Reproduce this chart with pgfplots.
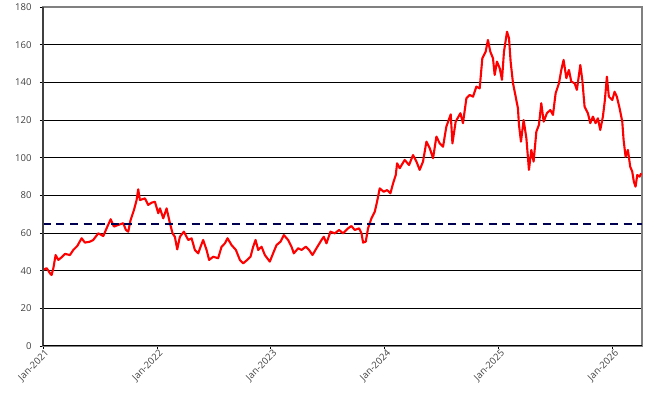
\documentclass[border=0pt]{standalone}
\usepackage{pgfplots}
\pgfplotsset{compat=1.18}
\usepackage{fontspec}
\setmainfont{Open Sans}
\definecolor{lblgray}{HTML}{404040}
\definecolor{frgray}{HTML}{808080}
\definecolor{dashnavy}{HTML}{000050}
\begin{document}
\begin{tikzpicture}[x=1pt,y=1pt]
\path[use as bounding box] (-43,-63) rectangle (618,346);
\begin{axis}[
  at={(0,0)}, anchor=south west,
  scale only axis, width=599pt, height=339pt,
  xmin=0, xmax=63.1, ymin=0, ymax=180,
  xtick={0,12,24,36,48,60},
  xticklabels={Jan-2021,Jan-2022,Jan-2023,Jan-2024,Jan-2025,Jan-2026},
  ytick={0,20,...,180},
  ymajorgrids, grid style={black, line width=0.8pt},
  axis line style={frgray, line width=1.2pt},
  tick style={black, line width=0.8pt},
  tick align=outside, major tick length=3pt,
  xtick pos=bottom, ytick pos=left,
  tick label style={font=\fontsize{9.5}{11}\selectfont, text=lblgray},
  xticklabel style={rotate=45, anchor=north east, inner sep=1pt, xshift=2pt},
  yticklabel style={xshift=-5pt},
  /pgf/number format/assume math mode=true,
  clip=false,
]
\addplot[red, line width=2.1pt, line join=round] coordinates {
(0,40.4)(0.39,41.3)(0.74,38.6)(0.91,37.7)(1.09,41.3)(1.33,48.3)(1.61,45.7)(1.96,47.1)(2.32,48.9)(2.84,48.3)(3.19,51)(3.61,53.1)(4.07,57.2)(4.42,54.9)(4.95,55.4)(5.29,56.3)(5.82,59.8)(6.35,58.4)(6.7,62.5)(7.13,67.3)(7.47,63.4)(7.93,64.3)(8.45,65.2)(8.74,61.6)(8.98,60.7)(9.23,66.9)(9.58,72.2)(9.86,77.5)(10.03,83.2)(10.21,77.5)(10.74,78.4)(11.08,74.9)(11.44,76.1)(11.79,76.6)(12.14,70.5)(12.32,73.1)(12.67,67.8)(13.02,73.1)(13.37,65.2)(13.65,59.8)(13.89,58)(14.14,51.3)(14.42,58)(14.84,60.7)(15.3,56.3)(15.65,57.2)(16,51)(16.35,49.2)(16.6,52.7)(16.87,56.3)(17.23,51)(17.5,45.7)(17.93,47.4)(18.45,46.6)(18.81,52.7)(19.16,54.5)(19.44,57.2)(19.86,53.6)(20.32,51)(20.74,45.7)(21.09,43.9)(21.51,45.7)(21.86,47.4)(22.14,52.7)(22.39,56.3)(22.67,51)(23.02,52.7)(23.37,48.3)(23.89,44.8)(24.24,49.2)(24.6,53.6)(25.02,55.4)(25.37,58.9)(25.82,56.3)(26.18,52.7)(26.42,49.2)(26.88,51.9)(27.23,51)(27.68,52.7)(28.03,51)(28.39,48.3)(28.81,51.9)(29.34,56.3)(29.58,58)(29.86,54.5)(30.28,60.7)(30.74,59.8)(31.19,61.6)(31.61,59.8)(32.14,62.5)(32.49,63.7)(32.84,61.6)(33.3,62.5)(33.55,59.8)(33.72,54.9)(34,55.4)(34.24,62.5)(34.6,67.8)(34.95,71.3)(35.19,76.6)(35.47,83.7)(35.89,81.9)(36.24,82.8)(36.6,81.1)(36.88,86.4)(37.16,90.8)(37.3,97)(37.58,94.4)(38.1,98.8)(38.56,96.1)(38.98,101.4)(39.34,97.9)(39.68,93.5)(40.03,97.9)(40.39,108.5)(40.74,105)(41.09,99.7)(41.44,111.2)(41.79,107.6)(42.14,105.8)(42.49,116.5)(42.95,123)(43.13,107.6)(43.47,119.1)(43.97,123.6)(44.24,118.3)(44.6,131.5)(44.95,133.3)(45.3,132.4)(45.65,137.7)(46,136.8)(46.28,152.8)(46.63,156.3)(46.87,162.5)(47.12,156.3)(47.4,152.8)(47.58,143.9)(47.82,151)(48.11,147.5)(48.35,141.3)(48.56,156.3)(48.88,166.9)(49.09,163.4)(49.26,151)(49.51,139.5)(49.79,132.4)(50.03,126.2)(50.14,117.4)(50.35,108.5)(50.63,120)(50.92,110.3)(51.19,93.5)(51.44,104.1)(51.68,97.9)(51.97,113.8)(52.24,117.4)(52.49,128.9)(52.74,119.1)(53.08,123.6)(53.44,125.3)(53.72,122.7)(54,134.2)(54.35,139.5)(54.6,146.6)(54.84,151.9)(55.13,142.2)(55.4,146.6)(55.65,140.4)(56,139.5)(56.24,136)(56.6,149.2)(56.81,141.3)(57.05,127.1)(57.4,123.6)(57.65,118.3)(57.93,121.8)(58.21,118.3)(58.45,120.9)(58.7,114.7)(58.98,121.8)(59.19,130.6)(59.4,143)(59.61,132.4)(59.97,130.6)(60.21,135)(60.45,132.4)(60.74,126.2)(61.02,119.1)(61.16,109.4)(61.37,100.5)(61.61,104.1)(61.86,95.2)(62.07,92.6)(62.24,87.3)(62.42,84.6)(62.6,90.8)(62.84,89.9)(63.02,91.7)
};
\addplot[dashnavy, line width=2pt, dash pattern=on 8pt off 5.5pt] coordinates {(0,65)(63.1,65)};
\end{axis}
\draw[lblgray, line width=1.2pt] (0,0) -- (0,339);
\draw[black, line width=1pt] (0,0) -- (599,0);
\end{tikzpicture}
\end{document}
